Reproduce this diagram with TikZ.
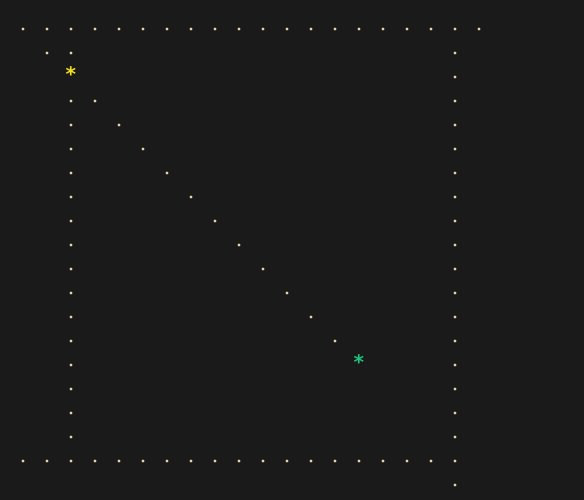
\documentclass[tikz,border=0pt]{standalone}
\usepackage{fontspec}
\newfontfamily\gridmono{DejaVu Sans Mono}
\definecolor{gridbg}{HTML}{1A1A1A}
\definecolor{dotcol}{HTML}{E6D2A8}
\definecolor{startcol}{HTML}{F2E21C}
\definecolor{goalcol}{HTML}{1FC47A}
\tikzset{
  celldot/.style={
    circle, fill=dotcol, inner sep=0pt, minimum size=3.2pt
  },
  cellstar/.style={
    text=#1, inner sep=0pt, yshift=3pt,
    font=\gridmono\bfseries\fontsize{20}{20}\selectfont
  },
  cellstar/.default=startcol,
}

\begin{document}
\begin{tikzpicture}[x=24pt, y=-24pt]
    % canvas, one cell = 24px, origin at the first dot
    \fill[gridbg] (-0.9583,-1.2083) rectangle (23.3750,19.6250);
    \useasboundingbox (-0.9583,-1.2083) rectangle (23.3750,19.6250);

    % top wall
    \foreach \c in {0,...,19}
      \node[celldot] (top-\c) at (\c,0) {};
    \node[celldot] (d-1-1) at (1,1) {};
    \node[celldot] (d-2-1) at (2,1) {};

    % left wall
    \foreach \r in {3,...,17}
      \node[celldot] (left-\r) at (2,\r) {};

    % right wall
    \foreach \r in {1,...,19}
      \node[celldot] (right-\r) at (18,\r) {};

    % bottom wall
    \foreach \c in {0,...,17}
      \node[celldot] (bot-\c) at (\c,18) {};

    % path
    \foreach \i in {3,...,13}
      \node[celldot] (path-\i) at (\i,\i) {};

    \node[cellstar=startcol] (start) at (2,2) {*};
    \node[cellstar=goalcol] (goal) at (14,14) {*};
  \end{tikzpicture}
\end{document}
